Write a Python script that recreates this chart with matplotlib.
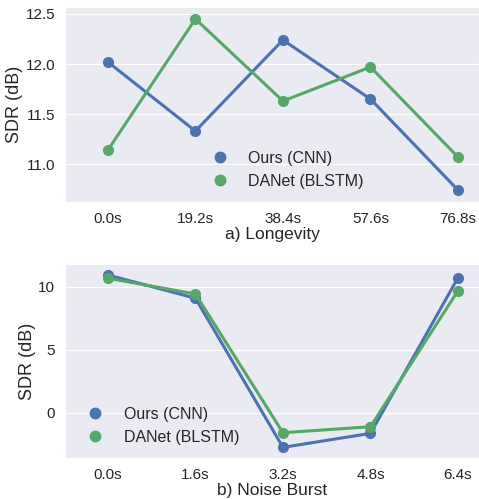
import matplotlib
matplotlib.use("Agg")
import matplotlib.pyplot as plt
import seaborn as sns
from matplotlib.lines import Line2D

# a) Longevity
long_labels = ["0.0s", "19.2s", "38.4s", "57.6s", "76.8s"]
long_ours = [12.02, 11.33, 12.24, 11.65, 10.74]
long_danet = [11.14, 12.45, 11.63, 11.97, 11.07]

# b) Noise Burst
burst_labels = ["0.0s", "1.6s", "3.2s", "4.8s", "6.4s"]
burst_ours = [10.93, 9.08, -2.75, -1.64, 10.71]
burst_danet = [10.67, 9.42, -1.59, -1.11, 9.68]

names = ["Ours (CNN)", "DANet (BLSTM)"]
blue = "#4C72B0"
green = "#55A868"

sns.set_style("darkgrid")
plt.rcParams["font.family"] = ["Liberation Sans", "DejaVu Sans"]

fig = plt.figure(figsize=(4.79, 4.99), dpi=100)
ax1 = fig.add_axes([0.1357, 0.595, 0.8643, 0.391])
ax2 = fig.add_axes([0.1357, 0.082, 0.8643, 0.389])


def draw(ax, labels, ours, danet, xlabel, ylim, yticks, legend_anchor):
    x = list(range(len(labels)))
    for vals, c in [(ours, blue), (danet, green)]:
        ax.plot(x, vals, color=c, lw=2.2, marker="o", ms=7, zorder=3)
    ax.set_xticks(x)
    ax.set_xticklabels(labels, fontsize=11)
    ax.set_yticks(yticks)
    ax.tick_params(axis="y", labelsize=11)
    ax.set_xlim(-0.49, 4.24)
    ax.set_ylim(*ylim)
    ax.xaxis.grid(False)
    ax.set_xlabel(xlabel, fontsize=12.5, labelpad=1)
    ax.set_ylabel("SDR (dB)", fontsize=13, labelpad=2)
    handles = [Line2D([], [], color=c, marker="o", ms=7.5, ls="")
               for c in (blue, green)]
    ax.legend(handles, names, loc="lower left", bbox_to_anchor=legend_anchor,
              fontsize=11.5, frameon=False, handletextpad=0.8, labelspacing=0.5)


draw(ax1, long_labels, long_ours, long_danet, "a) Longevity",
     (10.62, 12.57), [11.0, 11.5, 12.0, 12.5], (0.30, -0.005))
ax1.set_yticklabels(["11.0", "11.5", "12.0", "12.5"])
draw(ax2, burst_labels, burst_ours, burst_danet, "b) Noise Burst",
     (-3.6, 11.8), [0, 5, 10], (0.0, -0.005))

fig.savefig("out.png", dpi=100)
